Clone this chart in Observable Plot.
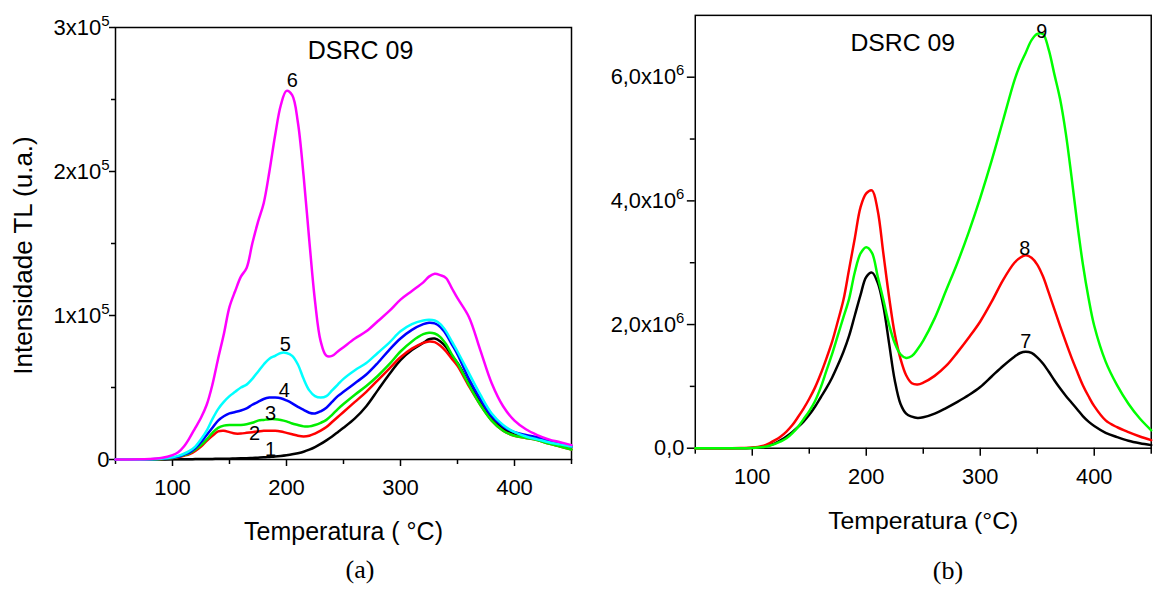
<!DOCTYPE html>
<html><head><meta charset="utf-8">
<script src="https://cdn.jsdelivr.net/npm/d3@7"></script>
<script src="https://cdn.jsdelivr.net/npm/@observablehq/plot@0.6"></script>
<style>
html,body{margin:0;padding:0;background:#fff;overflow:hidden;}
#wrap{position:relative;width:1155px;height:590px;overflow:hidden;}
.panel{position:absolute;top:0;}
.cap{position:absolute;font-family:"Liberation Serif","Times New Roman",serif;font-size:26px;transform:translate(-50%,-50%);z-index:2;}
</style></head><body><div id="wrap"><div id="pa" class="panel" style="left:0"></div><div id="pb" class="panel" style="left:590px"></div>
<div class="cap" style="left:360px;top:570px">(a)</div><div class="cap" style="left:948px;top:571px">(b)</div></div>
<script>
// ---------- Panel (a) data: temperature (°C) and TL intensity (x 1000 u.a.)
const tempA = [50,80,90,100,105,110,115,120,125,130,135,140,145,150,155,160,165,170,175,180,185,190,195,200,205,210,215,220,225,230,235,240,245,250,260,270,280,290,300,310,320,325,330,335,340,345,350,360,370,380,390,400,410,420,430,440,450];
const curve1 = [0,0,0,0.1,0.1,0.2,0.2,0.3,0.3,0.4,0.4,0.5,0.5,0.6,0.7,0.8,0.9,1.1,1.3,1.5,1.8,2.1,2.5,3,3.6,4.4,5.4,6.8,8.6,10.8,13.3,16,19,22,28.5,37,48,59,69,76,81,83.5,84,82,78,72,67,53,40,29,21.5,17.5,15.5,14,12,10.5,9];
const curve2 = [0,0.2,0.4,1,1.6,2.6,3.8,6,9,13,16.5,19.5,20,19,18,18,18.5,19,19.5,20,20,20,19.5,18.5,17.5,16.5,16,16.5,18,20,22.5,26,29.5,33,40,47,55,63,71,77,81,82,81.5,79,75,70,65,51,38,27,20,16.5,15,13.5,11,9,7];
const curve3 = [0,0.2,0.4,1,1.8,3,4.5,7,10,14,18.5,22,23.5,24,24,24,24.5,25.5,27,27.5,28,28,27.5,26.5,25,24,23,23,24,25.5,27.5,31,35,38.5,45,51,58,66,75,82,87,88,87.5,85,80,73,67,52,38,27,20,16.5,15,13.5,11,9,7];
const curve4 = [0,0.2,0.5,1.3,2,3.5,5,8,12,17,22,27,30,32,33,34,35.5,38,40,42,43,43,42.5,41,39,36.5,34.5,32.5,32,33.5,36,40,44,47,53,59,67,76,84,90,94,95,94.5,92,87,80,73,56,42,30,23,19,17,15.5,13,11,9];
const curve5 = [0,0.2,0.5,1.5,2.5,4,6,9,14,20,28,35,40,44,47,50,52,56,61,66,70,72,74,74,72,66,56,48,44,43,44,48,52,56,62,67,74,81,89,94,96.5,97,96.5,94,89,82,75,60,45,32,24,19,16,14,12,10.5,9];
const curve6 = [0,0.3,1,3,5,9,15,22,29,38,52,70,87,106,117,127,133,150,165,178,200,225,246,256,253,234,197,152,110,82,72,72,75,78,84,89,96,103,111,117,123,127,129,128,126,119,112,99,76,53,37,27,21,17,14,12,10];
const namesA = ["1","2","3","4","5","6"];
const labelTA = [186,172,186,198,199,205];
const labelIA = [7,18,32,48,80,263];
const xTicks = [100,200,300,400];
const xMinorTicks = [50,150,250,350,450];
const yTicksA = [0,1e5,2e5,3e5];
const yMinorA = [0.5e5,1.5e5,2.5e5];

// ---------- Panel (b) data: temperature (°C) and TL intensity (x 10^6 u.a.)
const tempB = [50,80,90,100,105,110,115,120,125,130,135,140,145,150,155,160,165,170,175,180,185,190,195,200,205,210,215,220,225,230,235,240,245,250,260,270,280,290,300,310,320,330,335,340,345,350,355,360,365,370,375,380,385,390,395,400,410,420,430,440,450];
const curve7 = [0,0,0,0.005,0.01,0.025,0.05,0.08,0.13,0.19,0.26,0.34,0.43,0.54,0.67,0.82,0.97,1.14,1.34,1.56,1.82,2.15,2.48,2.77,2.84,2.68,2.3,1.7,1.1,0.72,0.56,0.51,0.49,0.5,0.56,0.65,0.75,0.86,0.99,1.16,1.33,1.48,1.54,1.56,1.54,1.47,1.37,1.24,1.1,0.97,0.85,0.74,0.63,0.52,0.43,0.36,0.25,0.18,0.12,0.08,0.05];
const curve8 = [0,0,0.002,0.01,0.02,0.04,0.08,0.13,0.19,0.27,0.37,0.5,0.64,0.8,0.98,1.2,1.45,1.72,2.05,2.4,2.9,3.4,3.9,4.12,4.17,3.85,3.15,2.45,1.85,1.45,1.18,1.05,1.03,1.06,1.17,1.33,1.55,1.79,2.05,2.37,2.72,3.0,3.08,3.12,3.08,2.97,2.78,2.52,2.25,1.98,1.72,1.47,1.24,1.02,0.84,0.68,0.45,0.34,0.26,0.19,0.13];
const curve9 = [0,0,0,0.005,0.01,0.02,0.04,0.07,0.11,0.16,0.24,0.34,0.47,0.6,0.76,0.98,1.25,1.52,1.82,2.12,2.42,2.85,3.15,3.25,3.16,2.78,2.4,2.0,1.7,1.52,1.46,1.49,1.6,1.74,2.1,2.55,3.0,3.5,4.05,4.65,5.3,5.95,6.2,6.4,6.6,6.7,6.7,6.45,6.05,5.65,5.1,4.4,3.65,2.98,2.43,1.98,1.4,1.02,0.72,0.48,0.29];
const namesB = ["7","8","9"];
const labelTB = [340,339,354];
const labelIB = [1.73,3.23,6.74];
const yTicksB = [0,2e6,4e6,6e6];
const yMinorB = [1e6,3e6,5e6];

const title = "DSRC 09";
const xLabelA = "Temperatura ( °C)";
const xLabelB = "Temperatura (°C)";
const yLabel = "Intensidade TL (u.a.)";

// ---------- styles
const colorsA = ["#000000","#ff0000","#00ee00","#0000ff","#00ffff","#ff00ff"];
const colorsB = ["#000000","#ff0000","#00ff00"];
const FONT = "Liberation Sans, Arial, sans-serif";

function fmtA(v){ return v === 0 ? "0" : `${v/1e5}x10^5`; }
function fmtB(v){ return v === 0 ? "0,0" : `${(v/1e6).toFixed(1).replace(".", ",")}x10^6`; }

function finish(svg){
  const s = d3.select(svg);
  s.selectAll("text").each(function(){
    const t = d3.select(this);
    const txt = this.textContent;
    if (txt.includes("^") && this.childElementCount === 0) {
      const [base, exp] = txt.split("^");
      t.text(base);
      t.append("tspan").attr("dy", "-9").attr("font-size", "15px").text(exp);
    }
  });
  s.selectAll("g[aria-label='axislabel'] text, g[aria-label='title'] text").attr("letter-spacing", "-1px");
  return svg;
}

const curvesA = [curve1,curve2,curve3,curve4,curve5,curve6];
const left = Plot.plot({
  width: 590, height: 590,
  marginLeft: 115, marginRight: 19, marginTop: 27, marginBottom: 131,
  style: {fontFamily: FONT, fontSize: "22px", color: "#000", background: "transparent", overflow: "visible"},
  x: {domain: [50, 450]},
  y: {domain: [0, 3e5]},
  marks: [
    Plot.axisX(xTicks, {tickSize: 7, tickPadding: 13, strokeWidth: 1.5, fontSize: 22, label: null}),
    Plot.axisX(xMinorTicks, {tickSize: 5, strokeWidth: 1.5, tickFormat: () => "", label: null}),
    Plot.axisY(yTicksA, {tickSize: 6, tickPadding: 0, strokeWidth: 1.5, fontSize: 22, tickFormat: fmtA, label: null}),
    Plot.axisY(yMinorA, {tickSize: 4, strokeWidth: 1.5, tickFormat: () => "", label: null}),
    Plot.frame({stroke: "#000", strokeWidth: 1.5}),
    ...curvesA.map((c, k) => Plot.line(tempA.map((t, i) => ({T: t, I: c[i] * 1e3})), {x: "T", y: "I", stroke: colorsA[k], strokeWidth: 2.5, curve: "catmull-rom"})),
    Plot.text(namesA.map((n, i) => ({n, T: labelTA[i], I: labelIA[i] * 1e3})), {x: "T", y: "I", text: "n", fontSize: 20}),
    Plot.text([title], {x: [265], y: [284e3], fontSize: 25, ariaLabel: "title"}),
    Plot.text([xLabelA], {frameAnchor: "bottom", lineAnchor: "middle", dy: 72, fontSize: 25, ariaLabel: "axislabel"}),
    Plot.text([yLabel], {frameAnchor: "left", textAnchor: "middle", lineAnchor: "middle", rotate: -90, dx: -92, dy: 12, fontSize: 26})
  ]
});
document.getElementById("pa").appendChild(finish(left));

const curvesB = [curve7,curve8,curve9];
const right = Plot.plot({
  width: 570, height: 590,
  marginLeft: 105.7, marginRight: 4.3, marginTop: 15, marginBottom: 138.3,
  style: {fontFamily: FONT, fontSize: "22px", color: "#000", background: "transparent", overflow: "visible"},
  x: {domain: [50, 450]},
  y: {domain: [0, 7e6]},
  marks: [
    Plot.axisX(xTicks, {tickSize: 8, tickPadding: 12, strokeWidth: 1.5, fontSize: 22, label: null}),
    Plot.axisX(xMinorTicks, {tickSize: 6, strokeWidth: 1.5, tickFormat: () => "", label: null}),
    Plot.axisY(yTicksB, {tickSize: 8, tickPadding: 3, strokeWidth: 1.5, fontSize: 22, tickFormat: fmtB, label: null}),
    Plot.axisY(yMinorB, {tickSize: 5, strokeWidth: 1.5, tickFormat: () => "", label: null}),
    Plot.frame({stroke: "#000", strokeWidth: 1.5}),
    ...curvesB.map((c, k) => Plot.line(tempB.map((t, i) => ({T: t, I: c[i] * 1e6})), {x: "T", y: "I", stroke: colorsB[k], strokeWidth: 2.5, curve: "catmull-rom"})),
    Plot.text(namesB.map((n, i) => ({n, T: labelTB[i], I: labelIB[i] * 1e6})), {x: "T", y: "I", text: "n", fontSize: 20}),
    Plot.text([title], {x: [232], y: [6.555e6], fontSize: 25, ariaLabel: "title"}),
    Plot.text([xLabelB], {frameAnchor: "bottom", lineAnchor: "middle", dy: 73, fontSize: 25, ariaLabel: "axislabel"})
  ]
});
document.getElementById("pb").appendChild(finish(right));
</script></body></html>
